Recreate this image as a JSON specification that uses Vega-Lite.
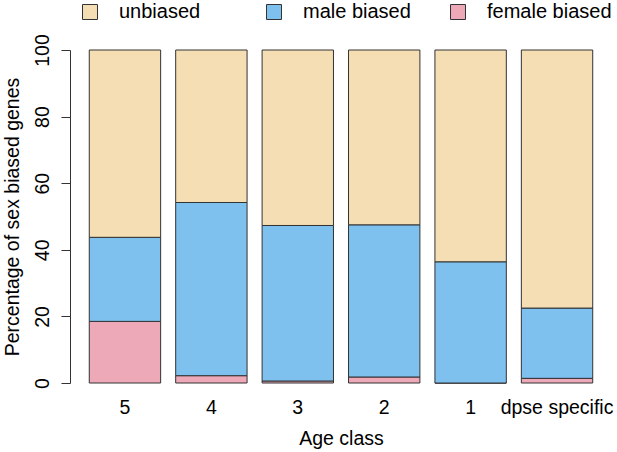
{
  "$schema": "https://vega.github.io/schema/vega-lite/v6.json",
  "autosize": "none",
  "width": 542,
  "height": 333,
  "padding": {"left": 70, "top": 50, "right": 5, "bottom": 69},
  "background": "white",
  "config": {
    "font": "Liberation Sans",
    "view": {"stroke": null},
    "axis": {"labelFont": "Liberation Sans", "titleFont": "Liberation Sans", "labelColor": "#000", "titleColor": "#000", "titleFontWeight": "normal", "grid": false}
  },
  "data": {
    "values": [
      {"age": "5", "category": "female biased", "percent": 18.5},
      {"age": "5", "category": "male biased", "percent": 25.25},
      {"age": "5", "category": "unbiased", "percent": 56.25},
      {"age": "4", "category": "female biased", "percent": 2.2},
      {"age": "4", "category": "male biased", "percent": 52.0},
      {"age": "4", "category": "unbiased", "percent": 45.8},
      {"age": "3", "category": "female biased", "percent": 0.6},
      {"age": "3", "category": "male biased", "percent": 46.7},
      {"age": "3", "category": "unbiased", "percent": 52.7},
      {"age": "2", "category": "female biased", "percent": 1.8},
      {"age": "2", "category": "male biased", "percent": 45.7},
      {"age": "2", "category": "unbiased", "percent": 52.5},
      {"age": "1", "category": "female biased", "percent": 0},
      {"age": "1", "category": "male biased", "percent": 36.4},
      {"age": "1", "category": "unbiased", "percent": 63.6},
      {"age": "dpse specific", "category": "female biased", "percent": 1.4},
      {"age": "dpse specific", "category": "male biased", "percent": 21.1},
      {"age": "dpse specific", "category": "unbiased", "percent": 77.5}
    ]
  },
  "mark": {"type": "bar", "stroke": "#333333", "strokeWidth": 1},
  "encoding": {
    "x": {
      "field": "age",
      "type": "nominal",
      "sort": ["5", "4", "3", "2", "1", "dpse specific"],
      "scale": {"paddingInner": 0.174, "paddingOuter": 0.223},
      "axis": {
        "title": "Age class",
        "titleFontSize": 19.5,
        "labelFontSize": 19.5,
        "labelAngle": 0,
        "domain": false,
        "ticks": false,
        "labelPadding": 15,
        "titlePadding": 13,
        "labelLimit": 200
      }
    },
    "y": {
      "field": "percent",
      "type": "quantitative",
      "stack": "zero",
      "scale": {"domain": [0, 100], "nice": false, "zero": true},
      "axis": {
        "title": "Percentage of sex biased genes",
        "titleFontSize": 19.5,
        "labelFontSize": 19.5,
        "values": [0, 20, 40, 60, 80, 100],
        "labelAngle": 270,
        "labelAlign": "center",
        "labelBaseline": "alphabetic",
        "labelPadding": 13,
        "tickSize": 9,
        "tickColor": "#333333",
        "domainColor": "#333333",
        "titlePadding": 10
      }
    },
    "color": {
      "field": "category",
      "type": "nominal",
      "scale": {
        "domain": ["unbiased", "male biased", "female biased"],
        "range": ["#F5DEB3", "#7EC0EE", "#EEA9B8"]
      },
      "legend": {
        "title": null,
        "orient": "none",
        "direction": "horizontal",
        "legendX": 10,
        "legendY": -48,
        "padding": 0,
        "symbolType": "square",
        "symbolSize": 225,
        "symbolStrokeColor": "#333333",
        "symbolStrokeWidth": 1,
        "symbolOpacity": 1,
        "labelFontSize": 20,
        "labelColor": "#000",
        "labelOffset": 19,
        "gridAlign": "all",
        "columnPadding": 20,
        "labelLimit": 200
      }
    },
    "order": {"field": "category", "sort": "ascending"}
  }
}
